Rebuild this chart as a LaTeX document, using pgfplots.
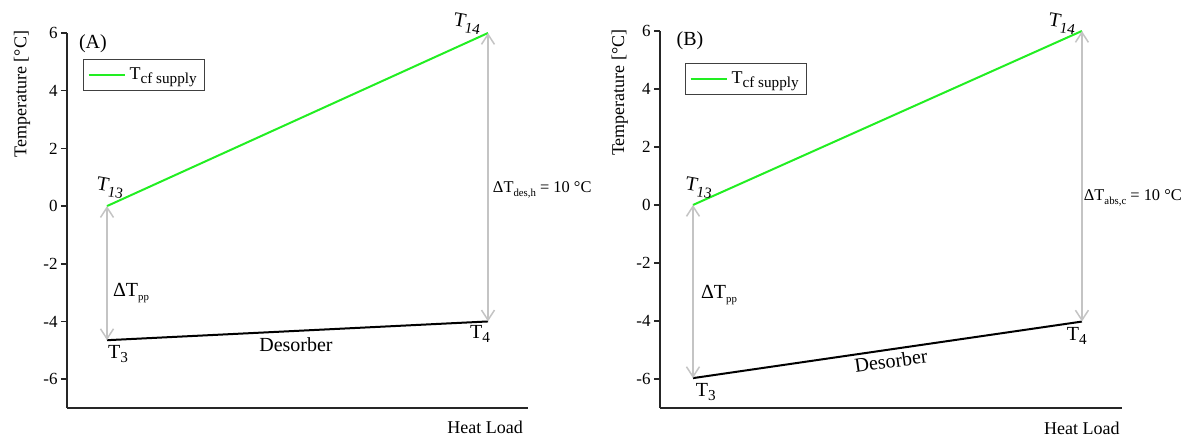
\documentclass[border=0pt]{standalone}
\usepackage{fontspec}
\setmainfont{Liberation Serif}
\usepackage{pgfplots}
\pgfplotsset{compat=1.18}
\usetikzlibrary{arrows.meta}
\definecolor{cfgreen}{HTML}{22EE22}
\definecolor{arrgray}{HTML}{C4C4C4}
\newcommand{\smallsub}[1]{\raisebox{-0.45ex}{\fontsize{5.4}{6}\selectfont #1}}
\newcommand{\legsub}[1]{\raisebox{-0.5ex}{\fontsize{7.6}{8}\selectfont #1}}
\tikzset{dlab/.style={anchor=west, inner sep=0pt, font=\fontsize{8.2}{10}\selectfont}}
\pgfplotsset{
  myax/.style={
    scale only axis,
    axis lines=left,
    axis line style={-, line width=1pt, black!85},
    xtick=\empty,
    ytick={-6,-4,-2,0,2,4,6},
    yticklabels={-6,-4,-2,0,2,4,6},
    tick align=outside,
    major tick length=3pt,
    ytick style={line width=0.8pt, black!85},
    yticklabel style={font=\fontsize{8.5}{10}\selectfont, inner sep=1.5pt},
    ymin=-7, ymax=6,
    clip=false,
    label style={font=\fontsize{9}{11}\selectfont},
    ylabel={Temperature [°C]},
    xlabel={Heat Load},
    legend style={draw=black!75, line width=0.6pt, font=\fontsize{9}{11}\selectfont,
      inner xsep=2pt, inner ysep=2pt, row sep=0pt},
    legend image code/.code={\draw[#1] (0pt,0pt) -- (18pt,0pt);},
    every node/.append style={font=\fontsize{9}{11}\selectfont},
  },
  arr/.style={arrgray, line width=0.75pt, {Straight Barb[length=5pt,width=6.5pt]}-{Straight Barb[length=5pt,width=6.5pt]}, forget plot},
}
\begin{document}
\begin{tikzpicture}
\path[use as bounding box] (0,0) rectangle (595pt,218.5pt);
% ---------- (A) ----------
\begin{axis}[myax,
  at={(33.5pt,14.5pt)}, anchor=south west,
  width=230.5pt, height=187.5pt,
  xmin=-0.105, xmax=1.105,
  ylabel style={at={(axis description cs:-0.0976,0.837)}, anchor=center},
  xlabel style={at={(axis description cs:0.907,-0.051)}, anchor=center},
  legend style={at={(axis description cs:0.0347,0.931)}, anchor=north west},
]
\addplot[cfgreen, line width=1pt] coordinates {(0,0) (1,6)};
\addlegendentry{T\legsub{cf supply}}
\addplot[black, line width=1pt, forget plot] coordinates {(0,-4.65) (1,-4)};
\addplot[arr] coordinates {(0,0) (0,-4.65)};
\addplot[arr] coordinates {(1,6) (1,-4)};
\node at (axis cs:-0.037,5.62) {(A)};
\node[rotate=-10] at (axis cs:0.008,0.62) {T\legsub{13}};
\node[rotate=-10] at (axis cs:0.945,6.31) {T\legsub{14}};
\node at (axis cs:0.029,-5.13) {T\legsub{3}};
\node at (axis cs:0.979,-4.44) {T\legsub{4}};
\node at (axis cs:0.496,-4.82) {Desorber};
\node at (axis cs:0.063,-3.02) {ΔT\smallsub{pp}};
\node[dlab] at (axis cs:1.012,0.555) {ΔT\smallsub{des,h} = 10 °C};
\end{axis}
% ---------- (B) ----------
\begin{axis}[myax,
  at={(330pt,14.5pt)}, anchor=south west,
  width=231pt, height=188.5pt,
  xmin=-0.0848, xmax=1.103,
  ylabel style={at={(axis description cs:-0.087,0.836)}, anchor=center},
  xlabel style={at={(axis description cs:0.913,-0.053)}, anchor=center},
  legend style={at={(axis description cs:0.054,0.915)}, anchor=north west},
]
\addplot[cfgreen, line width=1pt] coordinates {(0,0) (1,6)};
\addlegendentry{T\legsub{cf supply}}
\addplot[black, line width=1pt, forget plot] coordinates {(0,-5.97) (1,-4.02)};
\addplot[arr] coordinates {(0,0) (0,-5.97)};
\addplot[arr] coordinates {(1,6) (1,-4.02)};
\node at (axis cs:-0.0077,5.66) {(B)};
\node[rotate=-10] at (axis cs:0.015,0.59) {T\legsub{13}};
\node[rotate=-10] at (axis cs:0.949,6.24) {T\legsub{14}};
\node at (axis cs:0.033,-6.45) {T\legsub{3}};
\node at (axis cs:0.987,-4.52) {T\legsub{4}};
\node[rotate=8] at (axis cs:0.509,-5.38) {Desorber};
\node at (axis cs:0.067,-3.10) {ΔT\smallsub{pp}};
\node[dlab] at (axis cs:1.004,0.24) {ΔT\smallsub{abs,c} = 10 °C};
\end{axis}
\end{tikzpicture}
\end{document}
